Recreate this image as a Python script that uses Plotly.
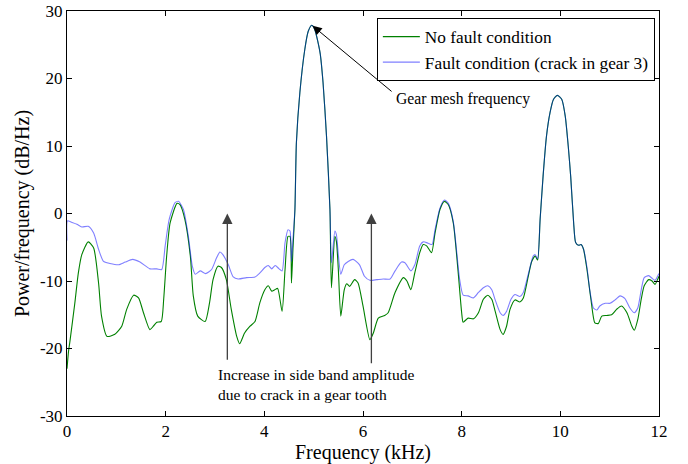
import plotly.graph_objects as go

green_x = [0.00, 0.03, 0.06, 0.16, 0.23, 0.30, 0.43, 0.54, 0.64, 0.70, 0.81, 0.97, 1.11, 1.21, 1.35, 1.45,
           1.55, 1.68, 1.75, 1.82, 1.91, 1.96, 2.02, 2.09, 2.23, 2.29, 2.39, 2.50, 2.56, 2.65, 2.80, 2.89,
           2.96, 3.06, 3.13, 3.23, 3.33, 3.44, 3.50, 3.60, 3.71, 3.81, 3.91, 4.01, 4.08, 4.15, 4.21, 4.27,
           4.36, 4.42, 4.48, 4.52, 4.55, 4.58, 4.62, 4.65, 4.72, 4.82, 4.89, 4.96, 5.02, 5.13, 5.19, 5.26,
           5.33, 5.36, 5.43, 5.46, 5.50, 5.55, 5.62, 5.67, 5.73, 5.83, 5.90, 6.00, 6.14, 6.21, 6.31, 6.44,
           6.51, 6.65, 6.82, 6.89, 6.97, 7.05, 7.15, 7.22, 7.29, 7.39, 7.46, 7.56, 7.65, 7.73, 7.83, 7.93,
           8.00, 8.03, 8.13, 8.24, 8.34, 8.44, 8.53, 8.61, 8.68, 8.78, 8.84, 8.91, 8.98, 9.08, 9.18, 9.25,
           9.35, 9.42, 9.49, 9.54, 9.59, 9.65, 9.72, 9.79, 9.86, 9.94, 10.03, 10.10, 10.16, 10.21, 10.27,
           10.31, 10.37, 10.42, 10.47, 10.54, 10.62, 10.70, 10.77, 10.84, 10.94, 11.04, 11.14, 11.24, 11.35,
           11.45, 11.50, 11.57, 11.64, 11.70, 11.79, 11.86, 11.92, 11.97, 12.00]
green_y = [-23.0, -20.5, -18.9, -13.2, -8.8, -6.1, -4.2, -5.1, -10.3, -15.2, -18.2, -17.9, -16.7, -14.2, -12.1, -12.5,
           -14.7, -17.2, -16.7, -16.1, -16.0, -12.7, -6.3, -1.4, 1.5, 1.3, -0.9, -6.3, -12.2, -15.2, -16.0, -13.2,
           -9.8, -7.8, -8.0, -9.8, -14.2, -18.2, -19.3, -17.7, -16.7, -16.0, -13.2, -11.3, -10.7, -11.5, -11.3, -11.1,
           -14.5, -8.3, -3.4, -3.4, -10.3, -5.3, 0.6, 10.5, 17.9, 24.3, 27.0, 27.9, 27.3, 23.8, 19.4, 11.5,
           0.6, -11.0, -3.4, -4.1, -8.3, -15.2, -11.3, -10.4, -10.8, -9.8, -10.3, -13.7, -18.7, -17.7, -15.5, -15.1,
           -14.7, -11.7, -9.5, -10.0, -11.3, -8.8, -5.8, -4.6, -4.8, -5.8, -2.9, 0.6, 1.8, 1.3, -1.4, -8.8,
           -14.7, -16.1, -15.5, -15.6, -14.7, -12.7, -12.1, -12.7, -14.5, -17.2, -17.9, -16.7, -14.2, -12.8, -13.1, -12.5,
           -9.3, -7.1, -6.3, -6.9, -0.9, 5.5, 11.5, 14.9, 16.9, 17.5, 16.9, 14.4, 10.0, 5.5, -1.4,
           -4.3, -4.7, -4.6, -5.3, -8.3, -12.7, -16.2, -16.3, -15.2, -15.1, -15.0, -14.2, -13.7, -14.7,
           -16.7, -17.3, -15.7, -12.7, -10.7, -9.8, -10.0, -10.5, -9.8, -9.3]

blue_x = [0.00, 0.01, 0.09, 0.20, 0.30, 0.43, 0.54, 0.64, 0.74, 0.87, 1.04, 1.18, 1.33, 1.48, 1.68, 1.82,
          1.92, 1.99, 2.07, 2.19, 2.26, 2.36, 2.46, 2.54, 2.60, 2.70, 2.81, 2.93, 3.03, 3.10, 3.16, 3.27,
          3.37, 3.47, 3.64, 3.81, 3.91, 4.01, 4.08, 4.15, 4.22, 4.30, 4.36, 4.42, 4.48, 4.52, 4.55, 4.58,
          4.62, 4.65, 4.72, 4.82, 4.89, 4.96, 5.02, 5.13, 5.19, 5.26, 5.33, 5.36, 5.43, 5.46, 5.50, 5.55,
          5.62, 5.70, 5.80, 5.93, 6.03, 6.14, 6.28, 6.41, 6.55, 6.65, 6.78, 6.85, 6.97, 7.05, 7.15, 7.22,
          7.32, 7.40, 7.46, 7.56, 7.65, 7.73, 7.83, 7.96, 8.03, 8.13, 8.24, 8.34, 8.44, 8.53, 8.61, 8.68,
          8.78, 8.84, 8.91, 9.00, 9.08, 9.18, 9.25, 9.35, 9.45, 9.49, 9.54, 9.59, 9.65, 9.72, 9.79, 9.86,
          9.94, 10.03, 10.10, 10.16, 10.21, 10.27, 10.31, 10.37, 10.42, 10.47, 10.54, 10.60, 10.67, 10.74,
          10.80, 10.91, 11.01, 11.11, 11.21, 11.31, 11.41, 11.50, 11.57, 11.64, 11.70, 11.79, 11.86, 11.92,
          11.97, 12.00]
blue_y = [-4.0, -1.1, -1.3, -1.6, -2.0, -1.9, -2.9, -5.3, -7.1, -7.4, -7.6, -7.2, -6.8, -7.2, -8.2, -8.2,
          -8.3, -4.8, -0.9, 1.6, 1.8, 0.6, -3.4, -7.8, -9.0, -8.5, -8.9, -8.3, -6.6, -5.7, -6.1, -7.6,
          -9.4, -9.7, -9.5, -9.4, -8.8, -8.0, -7.7, -8.2, -7.7, -8.2, -8.5, -4.3, -2.4, -2.6, -7.1, -3.9,
          0.6, 10.5, 17.9, 24.3, 27.0, 27.9, 27.3, 23.8, 19.4, 11.5, 0.6, -7.3, -2.6, -3.1, -6.1, -9.0,
          -7.6, -7.1, -6.8, -7.6, -9.3, -9.9, -9.8, -9.7, -9.7, -8.5, -7.2, -7.3, -8.5, -7.6, -4.8, -4.2,
          -4.4, -4.6, -2.4, 0.8, 2.0, 1.5, -1.2, -9.8, -12.1, -12.2, -12.5, -11.7, -11.0, -10.7, -11.3, -12.8,
          -14.7, -15.1, -14.5, -12.7, -12.0, -12.3, -11.7, -9.0, -6.3, -6.1, -6.7, -0.9, 5.5, 11.5, 14.9, 16.9,
          17.5, 16.9, 14.4, 10.0, 5.5, -1.4, -4.3, -4.7, -4.6, -5.3, -8.0, -11.5, -14.0, -14.3,
          -13.7, -13.3, -13.3, -12.8, -12.2, -12.6, -14.0, -14.7, -14.0, -11.3, -9.5, -9.2, -9.6, -9.9,
          -9.3, -8.9]

x_ticks = [0, 2, 4, 6, 8, 10, 12]
x_tick_labels = ["0", "2", "4", "6", "8", "10", "12"]
y_ticks = [-30, -20, -10, 0, 10, 20, 30]
y_tick_labels = ["-30", "-20", "-10", "0", "10", "20", "30"]

series_names = ["No fault condition", "Fault condition (crack in gear 3)"]

FONT = "Times New Roman, Liberation Serif, serif"

fig = go.Figure()
fig.add_trace(go.Scatter(x=green_x, y=green_y, mode="lines", name=series_names[0],
                         line=dict(color="rgb(0,128,0)", width=1.1, shape="spline", smoothing=0.6)))
fig.add_trace(go.Scatter(x=blue_x, y=blue_y, mode="lines", name=series_names[1],
                         line=dict(color="rgba(0,0,255,0.5)", width=1.1, shape="spline", smoothing=0.6)))

axis_common = dict(showgrid=False, zeroline=False, showline=True, linecolor="black", linewidth=1,
                   mirror="allticks", ticks="inside", ticklen=5, tickcolor="black", tickwidth=1,
                   automargin=False,
                   tickfont=dict(family=FONT, size=17, color="black"))

fig.update_xaxes(range=[0, 12], tickvals=x_ticks, ticktext=x_tick_labels,
                 title=dict(text="Frequency (kHz)", font=dict(family=FONT, size=20, color="black"), standoff=2),
                 **axis_common)
fig.update_yaxes(range=[-30, 30], tickvals=y_ticks, ticktext=y_tick_labels,
                 title=dict(text="Power/frequency (dB/Hz)", font=dict(family=FONT, size=20, color="black"), standoff=4),
                 **axis_common)

fig.add_annotation(x=4.98, y=27.8, ax=6.61, ay=17.9, axref="x", ayref="y", text="",
                   showarrow=True, arrowhead=2, arrowsize=1.8, arrowwidth=1, arrowcolor="black")
fig.add_annotation(x=6.62, y=16.9, text="Gear mesh frequency", showarrow=False, xanchor="left", yanchor="middle",
                   font=dict(family=FONT, size=15.7, color="black"))
fig.add_annotation(x=3.25, y=0.0, ax=3.25, ay=-21.9, axref="x", ayref="y", text="",
                   showarrow=True, arrowhead=2, arrowsize=1.6, arrowwidth=1.3, arrowcolor="#404040")
fig.add_annotation(x=6.17, y=0.0, ax=6.17, ay=-22.4, axref="x", ayref="y", text="",
                   showarrow=True, arrowhead=2, arrowsize=1.6, arrowwidth=1.3, arrowcolor="#404040")
fig.add_annotation(x=3.03, y=-25.3, text="Increase in side band amplitude<br>due to crack in a gear tooth",
                   showarrow=False, xanchor="left", yanchor="middle", align="left",
                   font=dict(family=FONT, size=15.5, color="black"))

fig.update_layout(
    width=688, height=464,
    margin=dict(l=67, r=29, t=11, b=48),
    plot_bgcolor="white", paper_bgcolor="white",
    font=dict(family=FONT, color="black"),
    legend=dict(x=0.993, y=0.983, xanchor="right", yanchor="top", bgcolor="white",
                bordercolor="black", borderwidth=1, font=dict(family=FONT, size=17.3, color="black"),
                tracegroupgap=0, itemwidth=37),
)

fig.write_html("out.html")
